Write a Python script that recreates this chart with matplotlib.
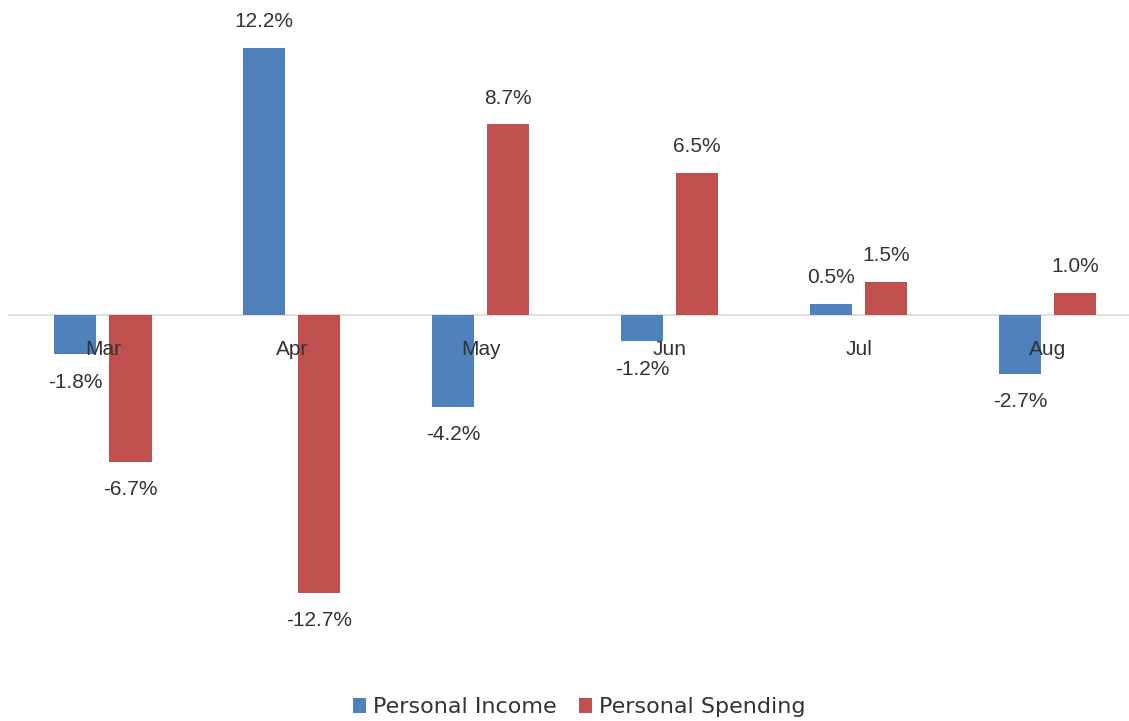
import numpy as np
import matplotlib.pyplot as plt

plt.rcParams['font.family'] = ['Liberation Sans', 'DejaVu Sans']

months = ['Mar', 'Apr', 'May', 'Jun', 'Jul', 'Aug']
income = [-1.8, 12.2, -4.2, -1.2, 0.5, -2.7]
spending = [-6.7, -12.7, 8.7, 6.5, 1.5, 1.0]

BLUE = '#4F81BD'
RED = '#C0504D'
TXT = '#333333'

fig = plt.figure(figsize=(11.29, 7.21), dpi=100)
ax = fig.add_axes([0.0075, 0.0846, 1.004, 0.9154])

x = np.arange(len(months))
w = 0.223
off = 0.146
b1 = ax.bar(x - off, income, w, color=BLUE, label='Personal Income', zorder=2)
b2 = ax.bar(x + off, spending, w, color=RED, label='Personal Spending', zorder=2)

ax.axhline(0, color='#d9d9d9', lw=1.2, zorder=1)
ax.set_xlim(-0.5, 5.5)
ax.set_ylim(-15.75, 14.38)
ax.axis('off')

# data labels
for bars, vals in ((b1, income), (b2, spending)):
    for bar, v in zip(bars, vals):
        xc = bar.get_x() + bar.get_width() / 2
        dy = 19 if v >= 0 else -20
        ax.annotate('%.1f%%' % v, (xc, v), xytext=(0, dy), textcoords='offset points',
                    ha='center', va='center', fontsize=15, color=TXT, zorder=4)

# category labels just under the zero line
for i, m in enumerate(months):
    ax.annotate(m, (i, 0), xytext=(0, -24.5), textcoords='offset points',
                ha='center', va='center', fontsize=15, color=TXT, zorder=5)

fig.legend(handles=[b1, b2], loc='center', bbox_to_anchor=(0.513, 0.019), ncol=2,
           frameon=False, handlelength=0.6, handleheight=0.6,
           handletextpad=0.3, columnspacing=1.0, labelcolor=TXT,
           prop={'family': 'DejaVu Sans', 'size': 16})

fig.savefig('out.png', dpi=100)
